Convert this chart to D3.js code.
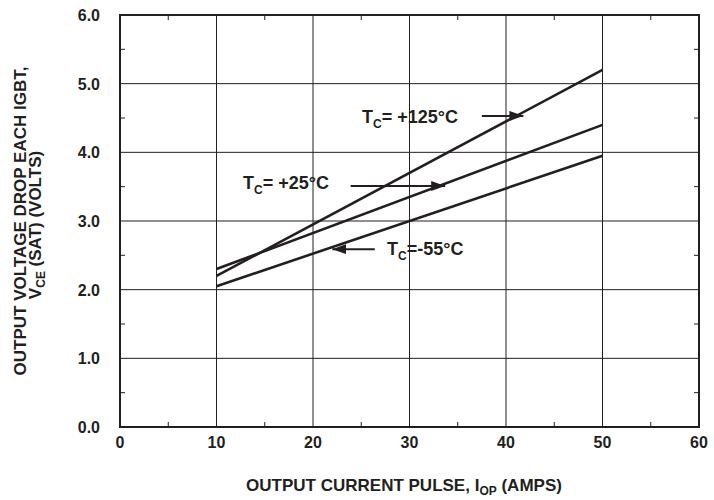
<!DOCTYPE html>
<html>
<head>
<meta charset="utf-8">
<script src="https://cdn.jsdelivr.net/npm/d3@7"></script>
<style>
  body { margin: 0; background: #fff; }
  svg text { font-family: "Liberation Sans", Arial, sans-serif; font-weight: bold; fill: #231f20; }
</style>
</head>
<body>
<svg width="714" height="500"></svg>
<script>
// data
const currents = [10, 50];
const vce125 = [2.2, 5.2];
const vce25 = [2.3, 4.4];
const vceM55 = [2.05, 3.95];
const xTicks = [0, 10, 20, 30, 40, 50, 60];
const yTicks = [0, 1, 2, 3, 4, 5, 6];

const svg = d3.select("svg");
const ink = "#231f20";

const x = d3.scaleLinear().domain([0, 60]).range([120, 699]);
const y = d3.scaleLinear().domain([0, 6]).range([427, 15]);

// grid
svg.append("g").selectAll("line")
    .data(xTicks.slice(1, -1))
    .join("line")
    .attr("x1", d => x(d)).attr("x2", d => x(d))
    .attr("y1", y(0)).attr("y2", y(6))
    .attr("stroke", ink).attr("stroke-width", 1);
svg.append("g").selectAll("line")
    .data(yTicks.slice(1, -1))
    .join("line")
    .attr("x1", x(0)).attr("x2", x(60))
    .attr("y1", d => y(d)).attr("y2", d => y(d))
    .attr("stroke", ink).attr("stroke-width", 1);

// minor ticks (inside, on all four sides)
const xMinor = d3.range(5, 60, 10);
const yMinor = d3.range(0.5, 6, 1);
const tickLen = 5;
svg.append("g").selectAll("line")
    .data(xMinor)
    .join("line")
    .attr("x1", d => x(d)).attr("x2", d => x(d))
    .attr("y1", y(0)).attr("y2", y(0) - tickLen)
    .attr("stroke", ink);
svg.append("g").selectAll("line")
    .data(xMinor)
    .join("line")
    .attr("x1", d => x(d)).attr("x2", d => x(d))
    .attr("y1", y(6)).attr("y2", y(6) + tickLen)
    .attr("stroke", ink);
svg.append("g").selectAll("line")
    .data(yMinor)
    .join("line")
    .attr("x1", x(0)).attr("x2", x(0) + tickLen)
    .attr("y1", d => y(d)).attr("y2", d => y(d))
    .attr("stroke", ink);
svg.append("g").selectAll("line")
    .data(yMinor)
    .join("line")
    .attr("x1", x(60)).attr("x2", x(60) - tickLen)
    .attr("y1", d => y(d)).attr("y2", d => y(d))
    .attr("stroke", ink);

// frame
svg.append("rect")
    .attr("x", x(0)).attr("y", y(6))
    .attr("width", x(60) - x(0)).attr("height", y(0) - y(6))
    .attr("fill", "none").attr("stroke", ink).attr("stroke-width", 2);

// axis labels
svg.append("g").selectAll("text")
    .data(xTicks)
    .join("text")
    .attr("x", d => x(d)).attr("y", y(0) + 21)
    .attr("text-anchor", "middle")
    .attr("font-size", 16)
    .text(d => d);
svg.append("g").selectAll("text")
    .data(yTicks)
    .join("text")
    .attr("x", 100).attr("y", d => y(d) + 6)
    .attr("text-anchor", "end")
    .attr("font-size", 16)
    .text(d => d3.format(".1f")(d));

// curves
const series = [vce125, vce25, vceM55];
const line = d3.line().x((d, i) => x(currents[i])).y(d => y(d));
svg.append("g").selectAll("path")
    .data(series)
    .join("path")
    .attr("d", d => line(d))
    .attr("fill", "none").attr("stroke", ink).attr("stroke-width", 2.6);

// arrow marker
svg.append("defs").append("marker")
    .attr("id", "head")
    .attr("viewBox", "0 0 14 10")
    .attr("refX", 14).attr("refY", 5)
    .attr("markerWidth", 14).attr("markerHeight", 10)
    .attr("markerUnits", "userSpaceOnUse")
    .attr("orient", "auto")
    .append("path").attr("d", "M0,0 L14,5 L0,10 Z").attr("fill", ink);

// annotations: label, arrow from (I, V) to (I, V)
const labels = [
    { sub: "= +125°C", tx: 362, ty: 123, a: [37.5, 4.53, 41.8, 4.53] },
    { sub: "= +25°C", tx: 243, ty: 189, a: [23.9, 3.51, 33.7, 3.51] },
    { sub: "=-55°C", tx: 387, ty: 255, a: [26.4, 2.59, 22.0, 2.59] }
];
labels.forEach(l => {
    const t = svg.append("text").attr("x", l.tx).attr("y", l.ty).attr("font-size", 18);
    t.append("tspan").text("T");
    t.append("tspan").attr("font-size", 12).attr("dy", 5).text("C");
    t.append("tspan").attr("dy", -5).text(l.sub);
    svg.append("line")
        .attr("x1", x(l.a[0])).attr("y1", y(l.a[1]))
        .attr("x2", x(l.a[2])).attr("y2", y(l.a[3]))
        .attr("stroke", ink).attr("stroke-width", 2)
        .attr("marker-end", "url(#head)");
});

// axis titles
const xt = svg.append("text").attr("x", 404).attr("y", 491)
    .attr("text-anchor", "middle").attr("font-size", 17);
xt.append("tspan").text("OUTPUT CURRENT PULSE, I");
xt.append("tspan").attr("font-size", 12).attr("dy", 4).text("OP");
xt.append("tspan").attr("dy", -4).text(" (AMPS)");

const yt = svg.append("g").attr("transform", "translate(26, 221) rotate(-90)");
yt.append("text").attr("text-anchor", "middle").attr("font-size", 17)
    .text("OUTPUT VOLTAGE DROP EACH IGBT,");
const yt2 = yt.append("text").attr("text-anchor", "middle").attr("font-size", 17)
    .attr("x", -4).attr("y", 15);
yt2.append("tspan").text("V");
yt2.append("tspan").attr("font-size", 12).attr("dy", 4).text("CE");
yt2.append("tspan").attr("dy", -4).text(" (SAT) (VOLTS)");
</script>
</body>
</html>
